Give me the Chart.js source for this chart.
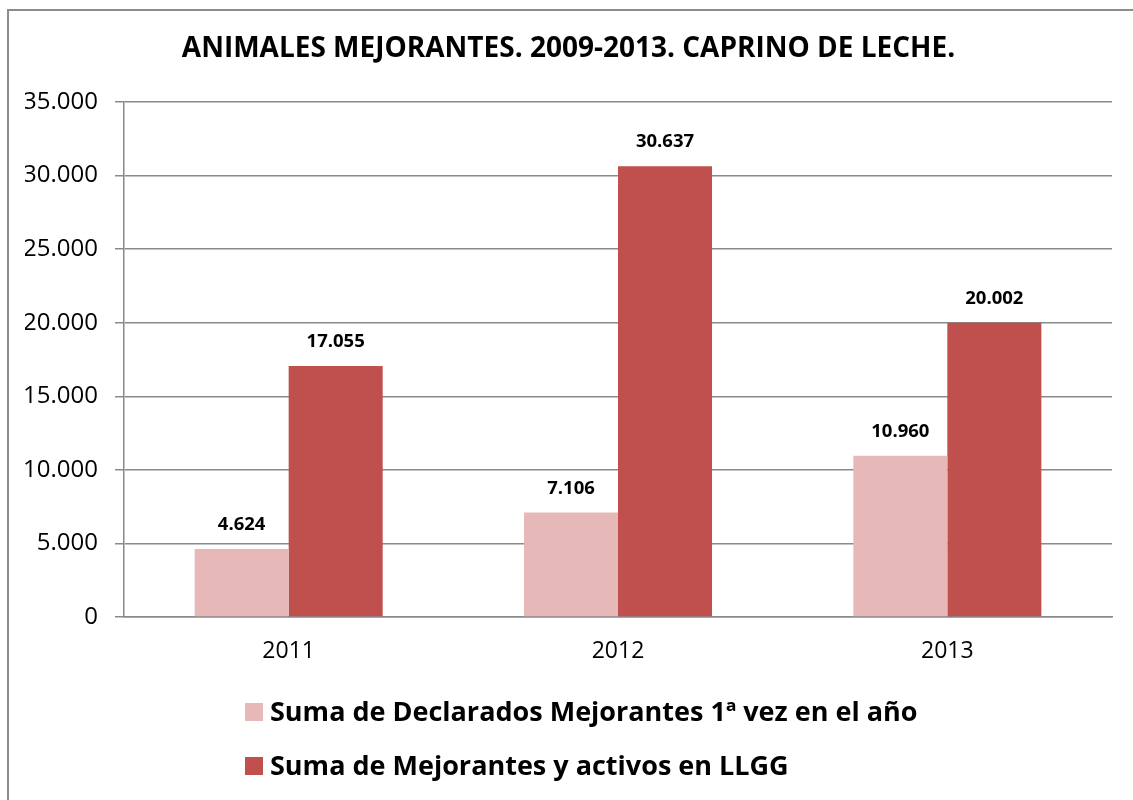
<!DOCTYPE html>
<html>
<head>
<meta charset="utf-8">
<title>Animales mejorantes 2009-2013. Caprino de leche</title>
<script src="https://cdn.jsdelivr.net/npm/chart.js@4.4.1/dist/chart.umd.min.js"></script>
<style>
  html, body { margin: 0; padding: 0; background: #ffffff; }
  #wrap { position: relative; width: 1133px; height: 800px; overflow: hidden; }
  canvas { display: block; }
</style>
</head>
<body>
<div id="wrap"><canvas id="chart" width="1133" height="800"></canvas></div>
<script>
// Chart data
const years = ['2011', '2012', '2013'];
const declaradosPrimeraVez = [4624, 7106, 10960];
const mejorantesActivos = [17055, 30637, 20002];
const seriesNames = [
  'Suma de Declarados Mejorantes 1ª vez en el año',
  'Suma de Mejorantes y activos en LLGG'
];
const chartTitle = 'ANIMALES MEJORANTES. 2009-2013. CAPRINO DE LECHE.';
const yTicks = { min: 0, max: 35000, step: 5000 };

const FONT = '"Open Sans", Lato, "DejaVu Sans", sans-serif';
const GRID = '#8a8a8a';
const COLORS = ['#E6B9B8', '#C0504D'];

// Spanish thousands separator: 17055 -> "17.055"
function fmt(v) {
  return String(Math.round(v)).replace(/\B(?=(\d{3})+(?!\d))/g, '.');
}

// Outer frame of the chart object
const framePlugin = {
  id: 'frame',
  beforeDraw(chart) {
    const c = chart.ctx;
    c.save();
    c.fillStyle = '#ffffff';
    c.fillRect(0, 0, chart.width, chart.height);
    c.strokeStyle = '#8c8c8c';
    c.lineWidth = 2;
    c.strokeRect(8, 10, chart.width + 20, chart.height + 20);
    c.restore();
  }
};

// Value labels above every bar
const valueLabels = {
  id: 'valueLabels',
  afterDatasetsDraw(chart) {
    const c = chart.ctx;
    c.save();
    c.font = 'bold 18.5px ' + FONT;
    c.fillStyle = '#000000';
    c.textAlign = 'center';
    c.textBaseline = 'middle';
    chart.data.datasets.forEach((ds, i) => {
      chart.getDatasetMeta(i).data.forEach((bar, j) => {
        c.fillText(fmt(ds.data[j]), bar.x, bar.y - 24);
      });
    });
    c.restore();
  }
};

// Legend stacked below the axis, left-aligned rows
const stackedLegend = {
  id: 'stackedLegend',
  afterDraw(chart) {
    const c = chart.ctx;
    c.save();
    c.font = 'bold 27px ' + FONT;
    c.fillStyle = '#000000';
    c.textAlign = 'left';
    c.textBaseline = 'middle';
    const x0 = 245, rowY = [712, 766], box = 18;
    chart.data.datasets.forEach((ds, i) => {
      c.fillStyle = ds.backgroundColor;
      c.fillRect(x0, rowY[i] - box / 2, box, box);
      c.fillStyle = '#000000';
      c.fillText(ds.label, x0 + box + 7, rowY[i] + 1);
    });
    c.restore();
  }
};

new Chart(document.getElementById('chart'), {
  type: 'bar',
  data: {
    labels: years,
    datasets: [
      { label: seriesNames[0], data: declaradosPrimeraVez, backgroundColor: COLORS[0] },
      { label: seriesNames[1], data: mejorantesActivos, backgroundColor: COLORS[1] }
    ]
  },
  options: {
    responsive: false,
    animation: false,
    devicePixelRatio: 1,
    categoryPercentage: 0.571,
    barPercentage: 1.0,
    layout: { padding: { left: 25, right: 21, top: 0, bottom: 123 } },
    plugins: {
      legend: { display: false },
      tooltip: { enabled: false },
      title: {
        display: true,
        text: chartTitle,
        color: '#000000',
        font: { family: FONT, size: 28, weight: 'bold', lineHeight: 1.2 },
        padding: { top: 32, bottom: 36.4 }
      }
    },
    scales: {
      x: {
        afterFit(scale) { scale.height = 60; },
        grid: { display: true, drawOnChartArea: false, drawTicks: false },
        border: { display: true, color: GRID, width: 1.5 },
        ticks: {
          color: '#000000',
          font: { family: FONT, size: 23 },
          padding: 21
        }
      },
      y: {
        min: yTicks.min,
        max: yTicks.max,
        afterFit(scale) { scale.width = 99; },
        grid: { color: GRID, lineWidth: 1.5, tickLength: 9, drawTicks: true },
        border: { display: true, color: GRID, width: 1.5 },
        ticks: {
          stepSize: yTicks.step,
          color: '#000000',
          font: { family: FONT, size: 24 },
          padding: 17,
          callback: (v) => fmt(v)
        }
      }
    }
  },
  plugins: [framePlugin, valueLabels, stackedLegend]
});
</script>
</body>
</html>
